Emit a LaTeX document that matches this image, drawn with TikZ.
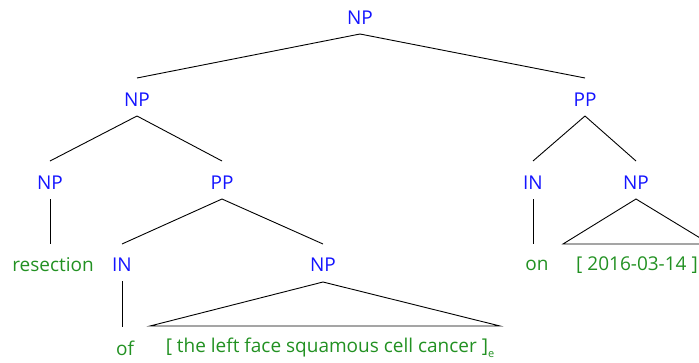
\documentclass[tikz,border=0pt]{standalone}
\usepackage{fontspec}
\setmainfont{Open Sans}
\definecolor{catblue}{RGB}{20,20,255}
\definecolor{wordgreen}{RGB}{34,145,34}
\begin{document}
\begin{tikzpicture}[x=1pt,y=-1pt,
  cat/.style={text=catblue,font=\fontsize{19}{21}\selectfont,inner sep=0pt,anchor=center},
  word/.style={text=wordgreen,font=\fontsize{19}{21}\selectfont,inner sep=0pt,anchor=center},
  edge/.style={draw=black,line width=0.9pt}]
\useasboundingbox (0,0) rectangle (699,362);
\node[cat] (root) at (360,18) {NP};
\node[cat] (np1) at (137,100) {NP};
\node[cat] (pp1) at (585,100) {PP};
\node[cat] (np2) at (50,183) {NP};
\node[cat] (pp2) at (222,183) {PP};
\node[cat] (in2) at (533,183) {IN};
\node[cat] (np3) at (636,183) {NP};
\node[word] (w1) at (53,265) {resection};
\node[cat] (in1) at (122,265) {IN};
\node[cat] (np4) at (323,265) {NP};
\node[word] (w2) at (537,265) {on};
\node[word] (w3) at (637,265) {[ 2016-03-14 ]};
\node[word] (w4) at (125,348) {of};
\node[word] (w5) at (330,348) {[ the left face squamous cell cancer ]\raisebox{-5pt}{\fontsize{11}{12}\selectfont e}};
\begin{scope}[edge]
\draw ([shift={(0,16)}]root.center) -- ([shift={(0,-22)}]np1.center);
\draw ([shift={(0,16)}]root.center) -- ([shift={(0,-22)}]pp1.center);
\draw ([shift={(0,16)}]np1.center) -- ([shift={(0,-22)}]np2.center);
\draw ([shift={(0,16)}]np1.center) -- ([shift={(0,-22)}]pp2.center);
\draw ([shift={(0,16)}]pp1.center) -- ([shift={(0,-22)}]in2.center);
\draw ([shift={(0,16)}]pp1.center) -- ([shift={(0,-22)}]np3.center);
\draw ([shift={(0,16)}]np2.center) -- ([shift={(0,-21)}]np2.center |- w1.center);
\draw ([shift={(0,16)}]pp2.center) -- ([shift={(0,-21)}]in1.center);
\draw ([shift={(0,16)}]pp2.center) -- ([shift={(0,-21)}]np4.center);
\draw ([shift={(0,16)}]in2.center) -- ([shift={(0,-21)}]in2.center |- w2.center);
\draw ([shift={(0,16)}]np3.center) -- ([shift={(-73,-21)}]np3.center |- w3.center) -- ([shift={(74,-21)}]np3.center |- w3.center) -- cycle;
\draw ([shift={(0,16)}]in1.center) -- ([shift={(0,-21)}]in1.center |- w4.center);
\draw ([shift={(0,17)}]np4.center) -- ([shift={(-173,-22)}]np4.center |- w5.center) -- ([shift={(177,-22)}]np4.center |- w5.center) -- cycle;
\end{scope}
\end{tikzpicture}
\end{document}
